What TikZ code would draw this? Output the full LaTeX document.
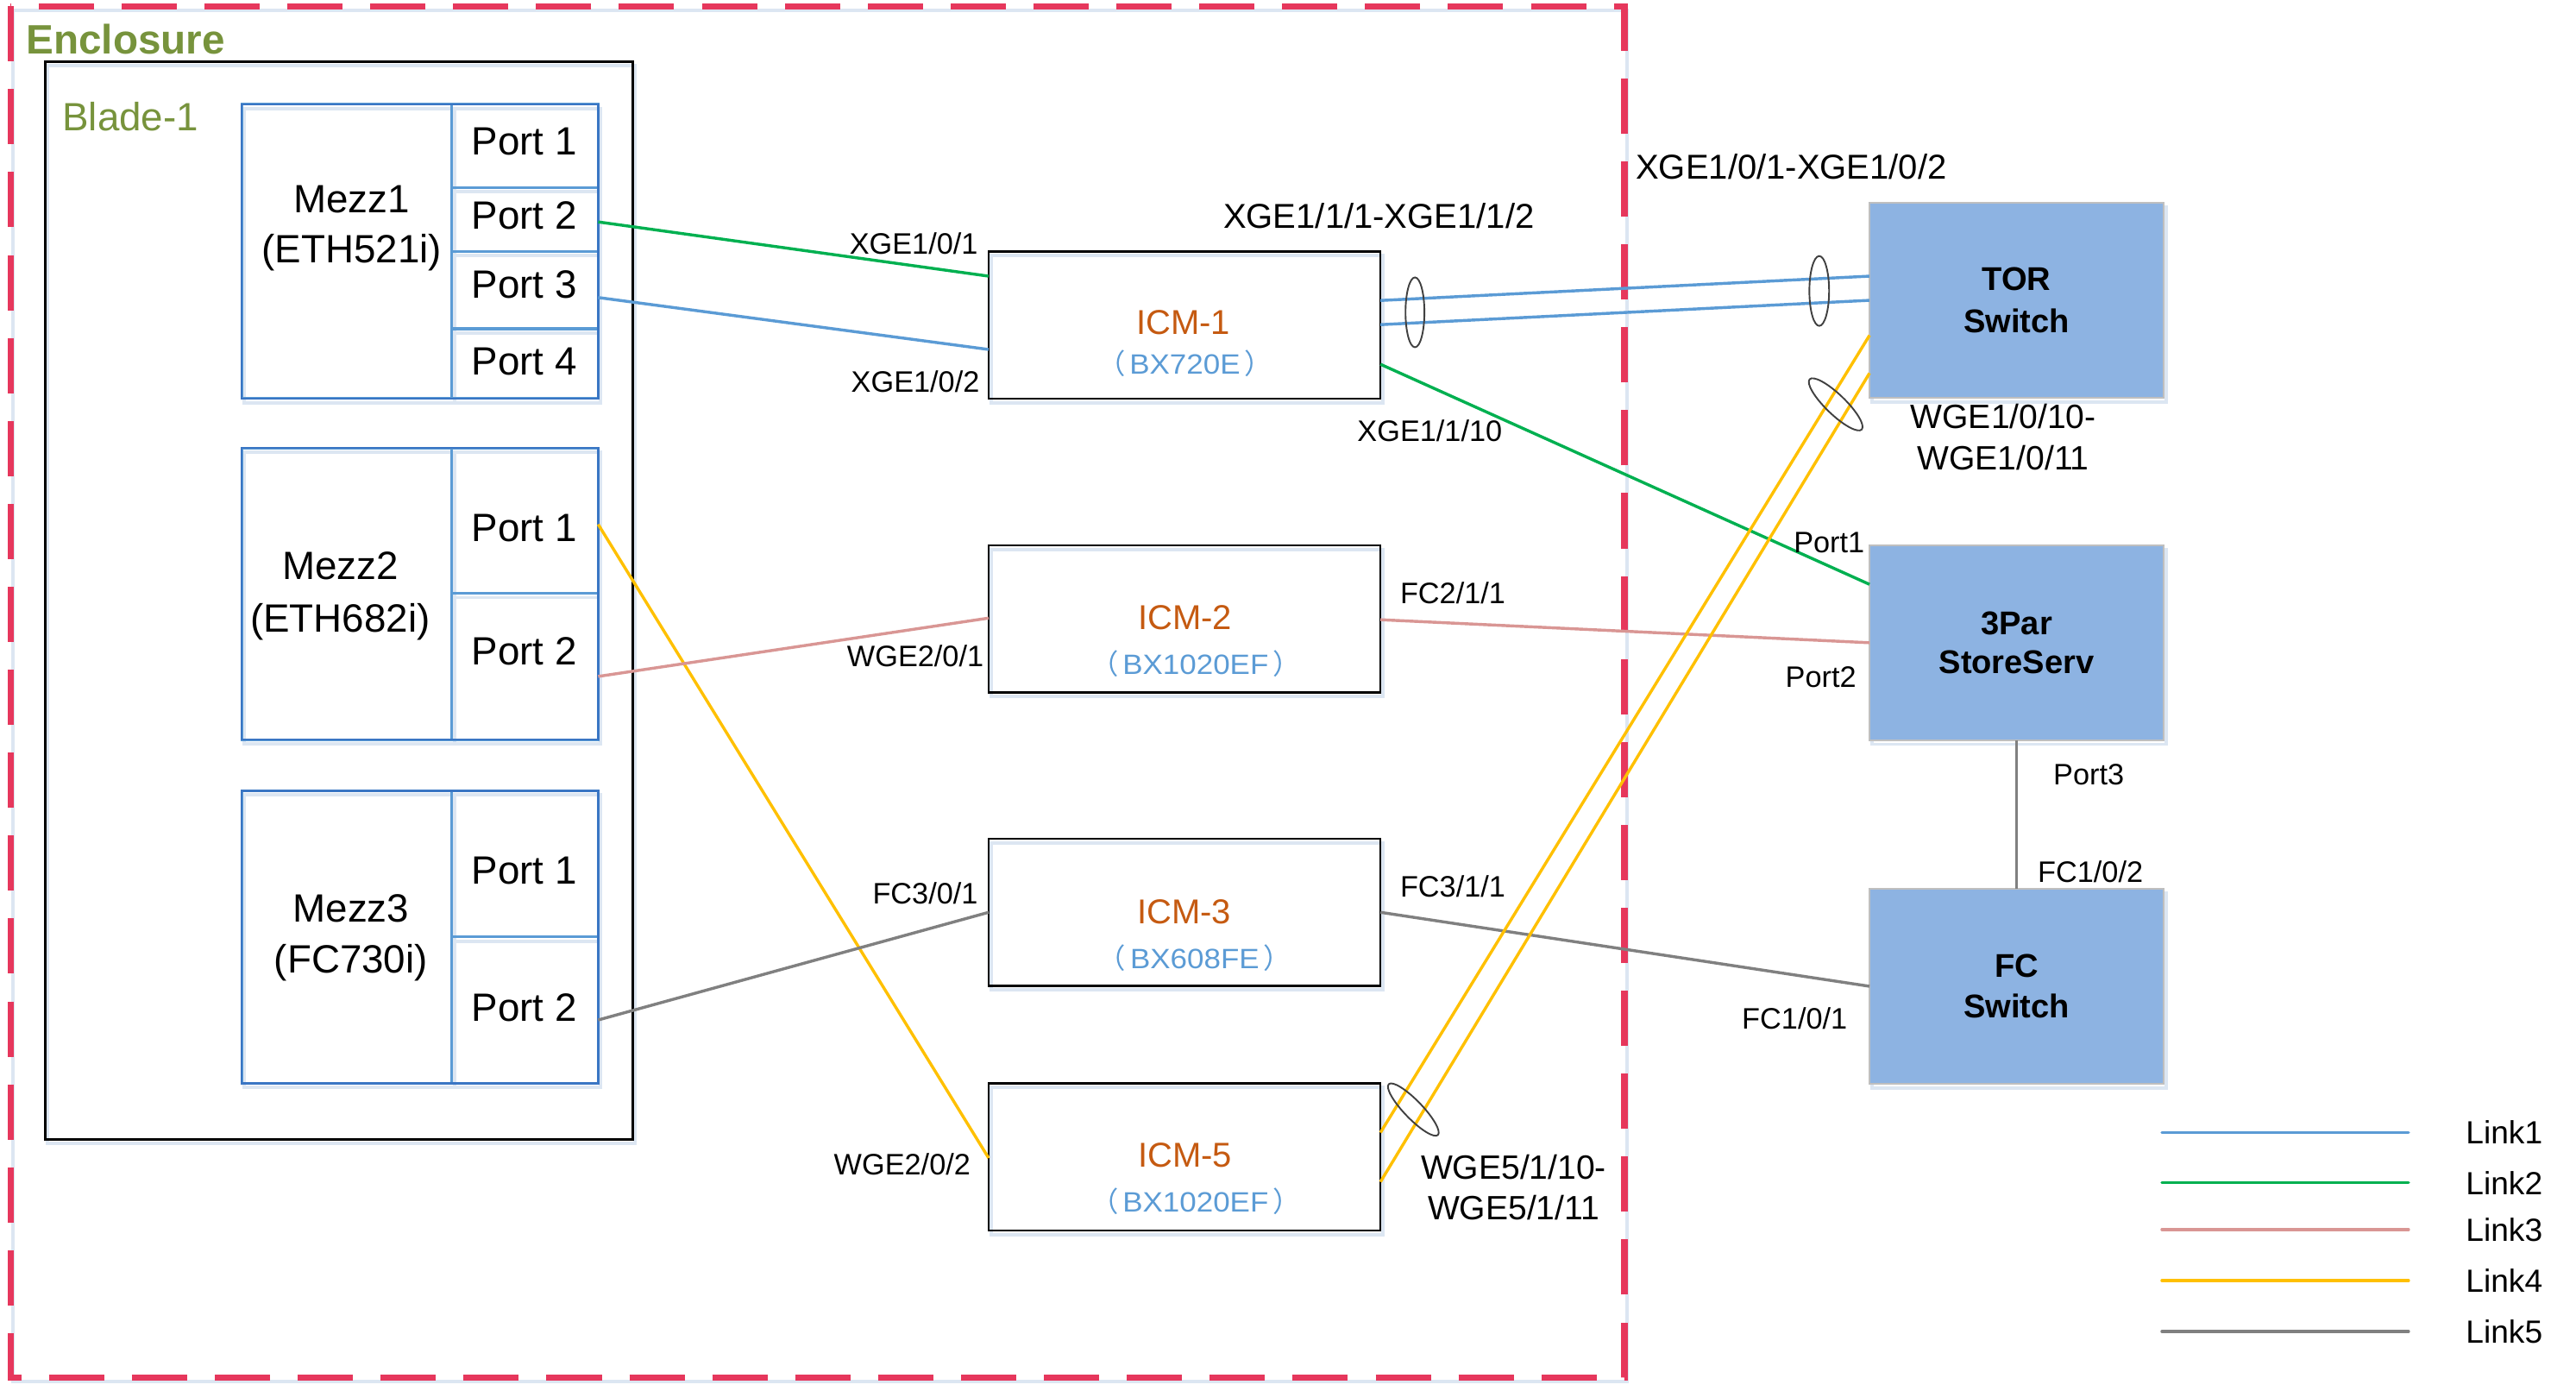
\documentclass[tikz,border=0pt]{standalone}
\usepackage{fontspec}
\setmainfont{Liberation Sans}
\newfontfamily\cjkfont{Noto Sans CJK SC}
\newfontfamily\bxfont[FakeStretch=1.08]{Liberation Sans}
\usetikzlibrary{shapes.geometric}
\definecolor{encred}{HTML}{E6375C}
\definecolor{olivetxt}{HTML}{77933C}
\definecolor{icmname}{HTML}{C55A11}
\definecolor{icmmodel}{HTML}{5B9BD5}
\definecolor{lkblue}{HTML}{5B9BD5}
\definecolor{lkgreen}{HTML}{00B050}
\definecolor{lkpink}{HTML}{D99694}
\definecolor{lkyellow}{HTML}{FFC000}
\definecolor{lkgray}{HTML}{808080}
\definecolor{swfill}{HTML}{8DB3E2}
\definecolor{swline}{HTML}{BFBFBF}
\definecolor{mezzout}{HTML}{3A76C4}
\definecolor{mezzdiv}{HTML}{5B9BD5}
\definecolor{shadowc}{HTML}{DCE6F2}
\definecolor{ellc}{HTML}{404040}
\newcommand\bxmodel[1]{{\cjkfont （}\hspace{2.5pt}{\bxfont #1}\hspace{2.5pt}{\cjkfont ）}}
\begin{document}
\begin{tikzpicture}[x=1pt,y=-1pt,
  every node/.style={inner sep=0pt, outer sep=0pt},
  shd/.style={preaction={draw=shadowc, line width=2pt, transform canvas={shift={(1.5pt,-2.5pt)}}}},
  cellbox/.style={draw=mezzdiv, line width=1.6pt, shd},
  mezzframe/.style={draw=mezzout, line width=1.3pt},
  icmbox/.style={draw=black, line width=1.2pt, shd, minimum width=238.4pt, minimum height=89.5pt},
  swbox/.style={draw=swline, fill=swfill, line width=1.2pt, shd, minimum width=179pt, minimum height=118.5pt, align=center},
  portlbl/.style={font=\fontsize{24}{30}\selectfont},
  mezzlbl/.style={anchor=north, align=center},
  lbl/.style={font=\fontsize{18}{21}\selectfont},
  lblbig/.style={font=\fontsize{21}{24}\selectfont},
  lblmid/.style={anchor=north, align=center},
  icmn/.style={text=icmname, font=\fontsize{21}{23}\selectfont},
  icmm/.style={text=icmmodel, font=\fontsize{17}{19}\selectfont},
  link/.style={line width=1.8pt},
  bundle/.style={draw=ellc, line width=1pt, ellipse},
  legtxt/.style={anchor=west, font=\fontsize{19.5}{22}\selectfont}
]
\useasboundingbox (0,0) rectangle (1567.5,846.2);

% Enclosure
\draw[encred, line width=3.8pt, dash pattern=on 33.6pt off 16.85pt, shd]
  (6.4,3.8) -- (6.4,838) -- (988.5,838) -- (988.5,3.8) -- cycle;
\node[anchor=west, text=olivetxt, font=\bfseries\fontsize{25}{28}\selectfont] (enctxt) at (16,24) {Enclosure};

% Blade
\node[draw=black, line width=1.5pt, shd, minimum width=357.6pt, minimum height=655.4pt] (blade) at (206.2,365.3) {};
\node[anchor=west, text=olivetxt, font=\fontsize{24}{27}\selectfont] (bladetxt) at (38,71) {Blade-1};

% Mezz1
\node[cellbox, minimum width=128pt, minimum height=179pt] (mezz1) at (211,153) {};
\node[cellbox, minimum width=89pt, minimum height=50.5pt] (m1p1) at (319.5,88.75) {};
\node[cellbox, minimum width=89pt, minimum height=39pt] (m1p2) at (319.5,133.5) {};
\node[cellbox, minimum width=89pt, minimum height=47pt] (m1p3) at (319.5,176.5) {};
\node[cellbox, minimum width=89pt, minimum height=42.5pt] (m1p4) at (319.5,221.25) {};
\draw[mezzframe] (mezz1.north west) rectangle (m1p4.south east);
\node[mezzlbl, font=\fontsize{24}{30.5}\selectfont] (t-mezz1) at (214,113) {Mezz1\\(ETH521i)};
\node[portlbl] (t-m1p1) at (319,86) {Port 1};
\node[portlbl] (t-m1p2) at (319,131) {Port 2};
\node[portlbl] (t-m1p3) at (319,173) {Port 3};
\node[portlbl] (t-m1p4) at (319,220) {Port 4};

% Mezz2
\node[cellbox, minimum width=128pt, minimum height=177.5pt] (mezz2) at (211,361.25) {};
\node[cellbox, minimum width=89pt, minimum height=88.5pt] (m2p1) at (319.5,316.75) {};
\node[cellbox, minimum width=89pt, minimum height=89pt] (m2p2) at (319.5,405.5) {};
\draw[mezzframe] (mezz2.north west) rectangle (m2p2.south east);
\node[mezzlbl, font=\fontsize{24}{31.5}\selectfont] (t-mezz2) at (207,336) {Mezz2\\(ETH682i)};
\node[portlbl] (t-m2p1) at (319,321.5) {Port 1};
\node[portlbl] (t-m2p2) at (319,396) {Port 2};

% Mezz3
\node[cellbox, minimum width=128pt, minimum height=178pt] (mezz3) at (211,570) {};
\node[cellbox, minimum width=89pt, minimum height=89pt] (m3p1) at (319.5,525.5) {};
\node[cellbox, minimum width=89pt, minimum height=89pt] (m3p2) at (319.5,614.5) {};
\draw[mezzframe] (mezz3.north west) rectangle (m3p2.south east);
\node[mezzlbl, font=\fontsize{24}{31}\selectfont] (t-mezz3) at (213.6,544) {Mezz3\\(FC730i)};
\node[portlbl] (t-m3p1) at (319,529.6) {Port 1};
\node[portlbl] (t-m3p2) at (319,613) {Port 2};

% ICMs
\node[icmbox] (icm1) at (720.8,197.75) {};
\node[icmn] (t-icm1) at (720,196) {ICM-1};
\node[icmm] (t-icm1m) at (721,221) {\bxmodel{BX720E}};
\node[icmbox] (icm2) at (720.8,376.5) {};
\node[icmn] (t-icm2) at (721,375.8) {ICM-2};
\node[icmm] (t-icm2m) at (727.5,403.7) {\bxmodel{BX1020EF}};
\node[icmbox] (icm3) at (720.8,555) {};
\node[icmn] (t-icm3) at (720.5,554.5) {ICM-3};
\node[icmm] (t-icm3m) at (727,583) {\bxmodel{BX608FE}};
\node[icmbox] (icm5) at (720.8,703.8) {};
\node[icmn] (t-icm5) at (721,703) {ICM-5};
\node[icmm] (t-icm5m) at (727.5,731) {\bxmodel{BX1020EF}};

% Switches / storage
\node[swbox, font=\bfseries\fontsize{20}{25.5}\selectfont] (tor) at (1227.1,182.75) {TOR\\Switch};
\node[swbox, font=\bfseries\fontsize{20}{24}\selectfont] (par) at (1227.1,391) {3Par\\StoreServ};
\node[swbox, font=\bfseries\fontsize{20}{25}\selectfont] (fcsw) at (1227.1,600) {FC\\Switch};

% Links
\draw[link, lkgreen] (m1p2.east |- 0,135) -- (icm1.west |- 0,168);
\draw[link, lkblue] (m1p3.east |- 0,181) -- (icm1.west |- 0,212.6);
\draw[link, lkblue] (icm1.east |- 0,182.8) -- (tor.west |- 0,168);
\draw[link, lkblue] (icm1.east |- 0,197.5) -- (tor.west |- 0,182.7);
\draw[link, lkgreen] (icm1.east |- 0,221.6) -- (par.west |- 0,355.5);
\draw[link, lkyellow] (m2p1.east |- 0,319) -- (icm5.west |- 0,704.5);
\draw[link, lkpink] (m2p2.east |- 0,411.5) -- (icm2.west |- 0,376);
\draw[link, lkpink] (icm2.east |- 0,377) -- (par.west |- 0,391);
\draw[link, lkgray] (m3p2.east |- 0,620.5) -- (icm3.west);
\draw[link, lkgray] (icm3.east) -- (fcsw.west);
\draw[link, lkgray] (par.south) -- (fcsw.north);
\draw[link, lkyellow] (icm5.east |- 0,689) -- (tor.west |- 0,204);
\draw[link, lkyellow] (icm5.east |- 0,719) -- (tor.west |- 0,227);

% Bundle marks
\node[bundle, minimum width=11.5pt, minimum height=42.5pt] (e1) at (861,190) {};
\node[bundle, minimum width=12pt, minimum height=42.5pt] (e2) at (1107,177) {};
\node[bundle, minimum width=44pt, minimum height=12pt, rotate=-44] (e3) at (1117,246) {};
\node[bundle, minimum width=43pt, minimum height=11pt, rotate=-46] (e4) at (860,675) {};

% Port labels
\node[lbl] (l1) at (556,148) {XGE1/0/1};
\node[lbl] (l2) at (557,232) {XGE1/0/2};
\node[lblbig] (l3) at (839,131.5) {XGE1/1/1-XGE1/1/2};
\node[lblbig] (l4) at (1090,101.5) {XGE1/0/1-XGE1/0/2};
\node[lbl] (l5) at (870,262) {XGE1/1/10};
\node[lblmid, font=\fontsize{20.5}{25}\selectfont] (l6) at (1219,246) {WGE1/0/10-\\WGE1/0/11};
\node[lbl] (l7) at (1113,330) {Port1};
\node[lbl] (l8) at (884,361) {FC2/1/1};
\node[lbl] (l9) at (557,399) {WGE2/0/1};
\node[lbl] (l10) at (1108,412) {Port2};
\node[lbl] (l11) at (1271,471) {Port3};
\node[lbl] (l12) at (1272,530.5) {FC1/0/2};
\node[lbl] (l13) at (563,543.5) {FC3/0/1};
\node[lbl] (l14) at (884,539.5) {FC3/1/1};
\node[lbl] (l15) at (1092,619.5) {FC1/0/1};
\node[lbl] (l16) at (549,708.5) {WGE2/0/2};
\node[lblmid, font=\fontsize{20.5}{24.5}\selectfont] (l17) at (921,702.5) {WGE5/1/10-\\WGE5/1/11};

% Legend
\coordinate (lg1a) at (1315.5,689);   \coordinate (lg1b) at (1465.6,689);
\coordinate (lg2a) at (1315.5,719.5); \coordinate (lg2b) at (1465.6,719.5);
\coordinate (lg3a) at (1315.5,748);   \coordinate (lg3b) at (1465.6,748);
\coordinate (lg4a) at (1315.5,779);   \coordinate (lg4b) at (1465.6,779);
\coordinate (lg5a) at (1315.5,810);   \coordinate (lg5b) at (1465.6,810);
\draw[link, line cap=round, lkblue] (lg1a) -- (lg1b);
\draw[link, line cap=round, lkgreen] (lg2a) -- (lg2b);
\draw[link, line cap=round, lkpink] (lg3a) -- (lg3b);
\draw[link, line cap=round, lkyellow] (lg4a) -- (lg4b);
\draw[link, line cap=round, lkgray] (lg5a) -- (lg5b);
\node[legtxt] (lt1) at (1500.5,689) {Link1};
\node[legtxt] (lt2) at (1500.5,719.5) {Link2};
\node[legtxt] (lt3) at (1500.5,748) {Link3};
\node[legtxt] (lt4) at (1500.5,779) {Link4};
\node[legtxt] (lt5) at (1500.5,810) {Link5};
\end{tikzpicture}
\end{document}
